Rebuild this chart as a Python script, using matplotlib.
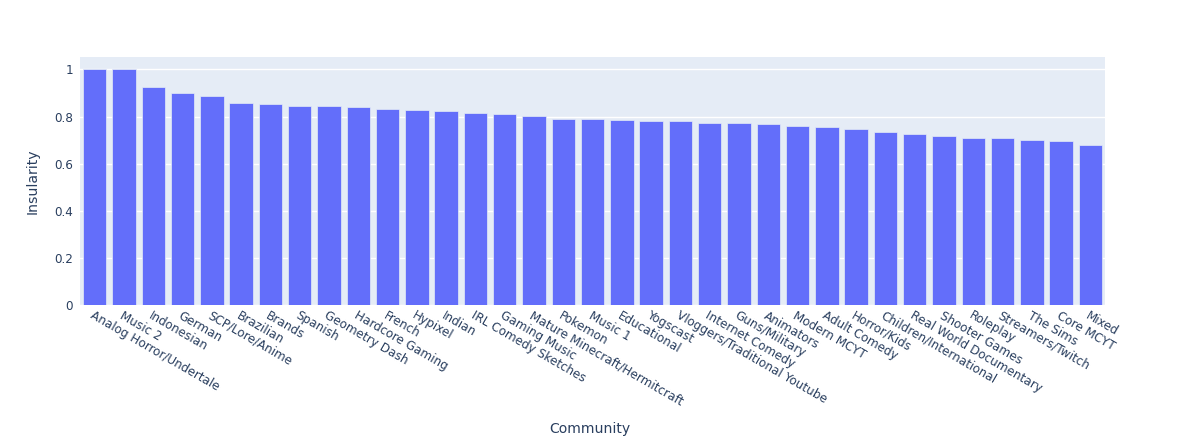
import numpy as np
import matplotlib.pyplot as plt

communities = [
    'Analog Horror/Undertale', 'Music 2', 'Indonesian', 'German', 'SCP/Lore/Anime',
    'Brazilian', 'Brands', 'Spanish', 'Geometry Dash', 'Hardcore Gaming',
    'French', 'Hypixel', 'Indian', 'IRL Comedy Sketches', 'Gaming Music',
    'Mature Minecraft/Hermitcraft', 'Pokemon', 'Music 1', 'Educational', 'Yogscast',
    'Vloggers/Traditional Youtube', 'Internet Comedy', 'Guns/Military', 'Animators',
    'Modern MCYT', 'Adult Comedy', 'Horror/Kids', 'Children/International',
    'Real World Documentary', 'Shooter Games', 'Roleplay', 'Streamers/Twitch',
    'The Sims', 'Core MCYT', 'Mixed',
]
insularity = [
    1.0, 1.0, 0.925, 0.899, 0.888,
    0.857, 0.851, 0.845, 0.843, 0.841,
    0.830, 0.827, 0.824, 0.817, 0.809,
    0.804, 0.791, 0.789, 0.784, 0.782,
    0.781, 0.773, 0.773, 0.767, 0.760,
    0.755, 0.748, 0.736, 0.725, 0.718,
    0.708, 0.708, 0.701, 0.697, 0.679,
]
yticks = [0, 0.2, 0.4, 0.6, 0.8, 1]
ytick_labels = ['0', '0.2', '0.4', '0.6', '0.8', '1']

plt.rcParams['font.family'] = ['DejaVu Sans']
text_col = '#2a3f5f'

fig = plt.figure(figsize=(11.78, 4.44), dpi=100)
ax = fig.add_axes([80 / 1178, 1 - 305 / 444, 1025 / 1178, 248 / 444])
ax.set_facecolor('#E5ECF6')

x = np.arange(len(communities))
ax.bar(x, insularity, width=0.8, color='#636EFA', edgecolor='#E5ECF6', linewidth=0.5, zorder=3)

ax.set_xlim(-0.5, len(communities) - 0.5)
ax.set_ylim(0, 1.0526)
ax.set_yticks(yticks)
ax.set_yticklabels(ytick_labels)
ax.grid(axis='y', color='white', linewidth=1, zorder=0)
ax.set_axisbelow(True)
for s in ax.spines.values():
    s.set_visible(False)

ax.set_xticks(x)
ax.set_xticklabels(communities, rotation=-30, ha='left', va='top', rotation_mode='anchor')
ax.tick_params(axis='both', length=0, labelsize=8.64, colors=text_col)
ax.tick_params(axis='x', pad=3)
ax.tick_params(axis='y', pad=5)

# axis titles placed in figure pixels like the reference
fig.text(590 / 1178, 1 - 429 / 444, 'Community', fontsize=10.08, color=text_col, ha='center', va='center')
fig.text(33 / 1178, 1 - 181 / 444, 'Insularity', fontsize=10.08, color=text_col,
         ha='center', va='center', rotation=90)

plt.savefig('out.png', dpi=100)
